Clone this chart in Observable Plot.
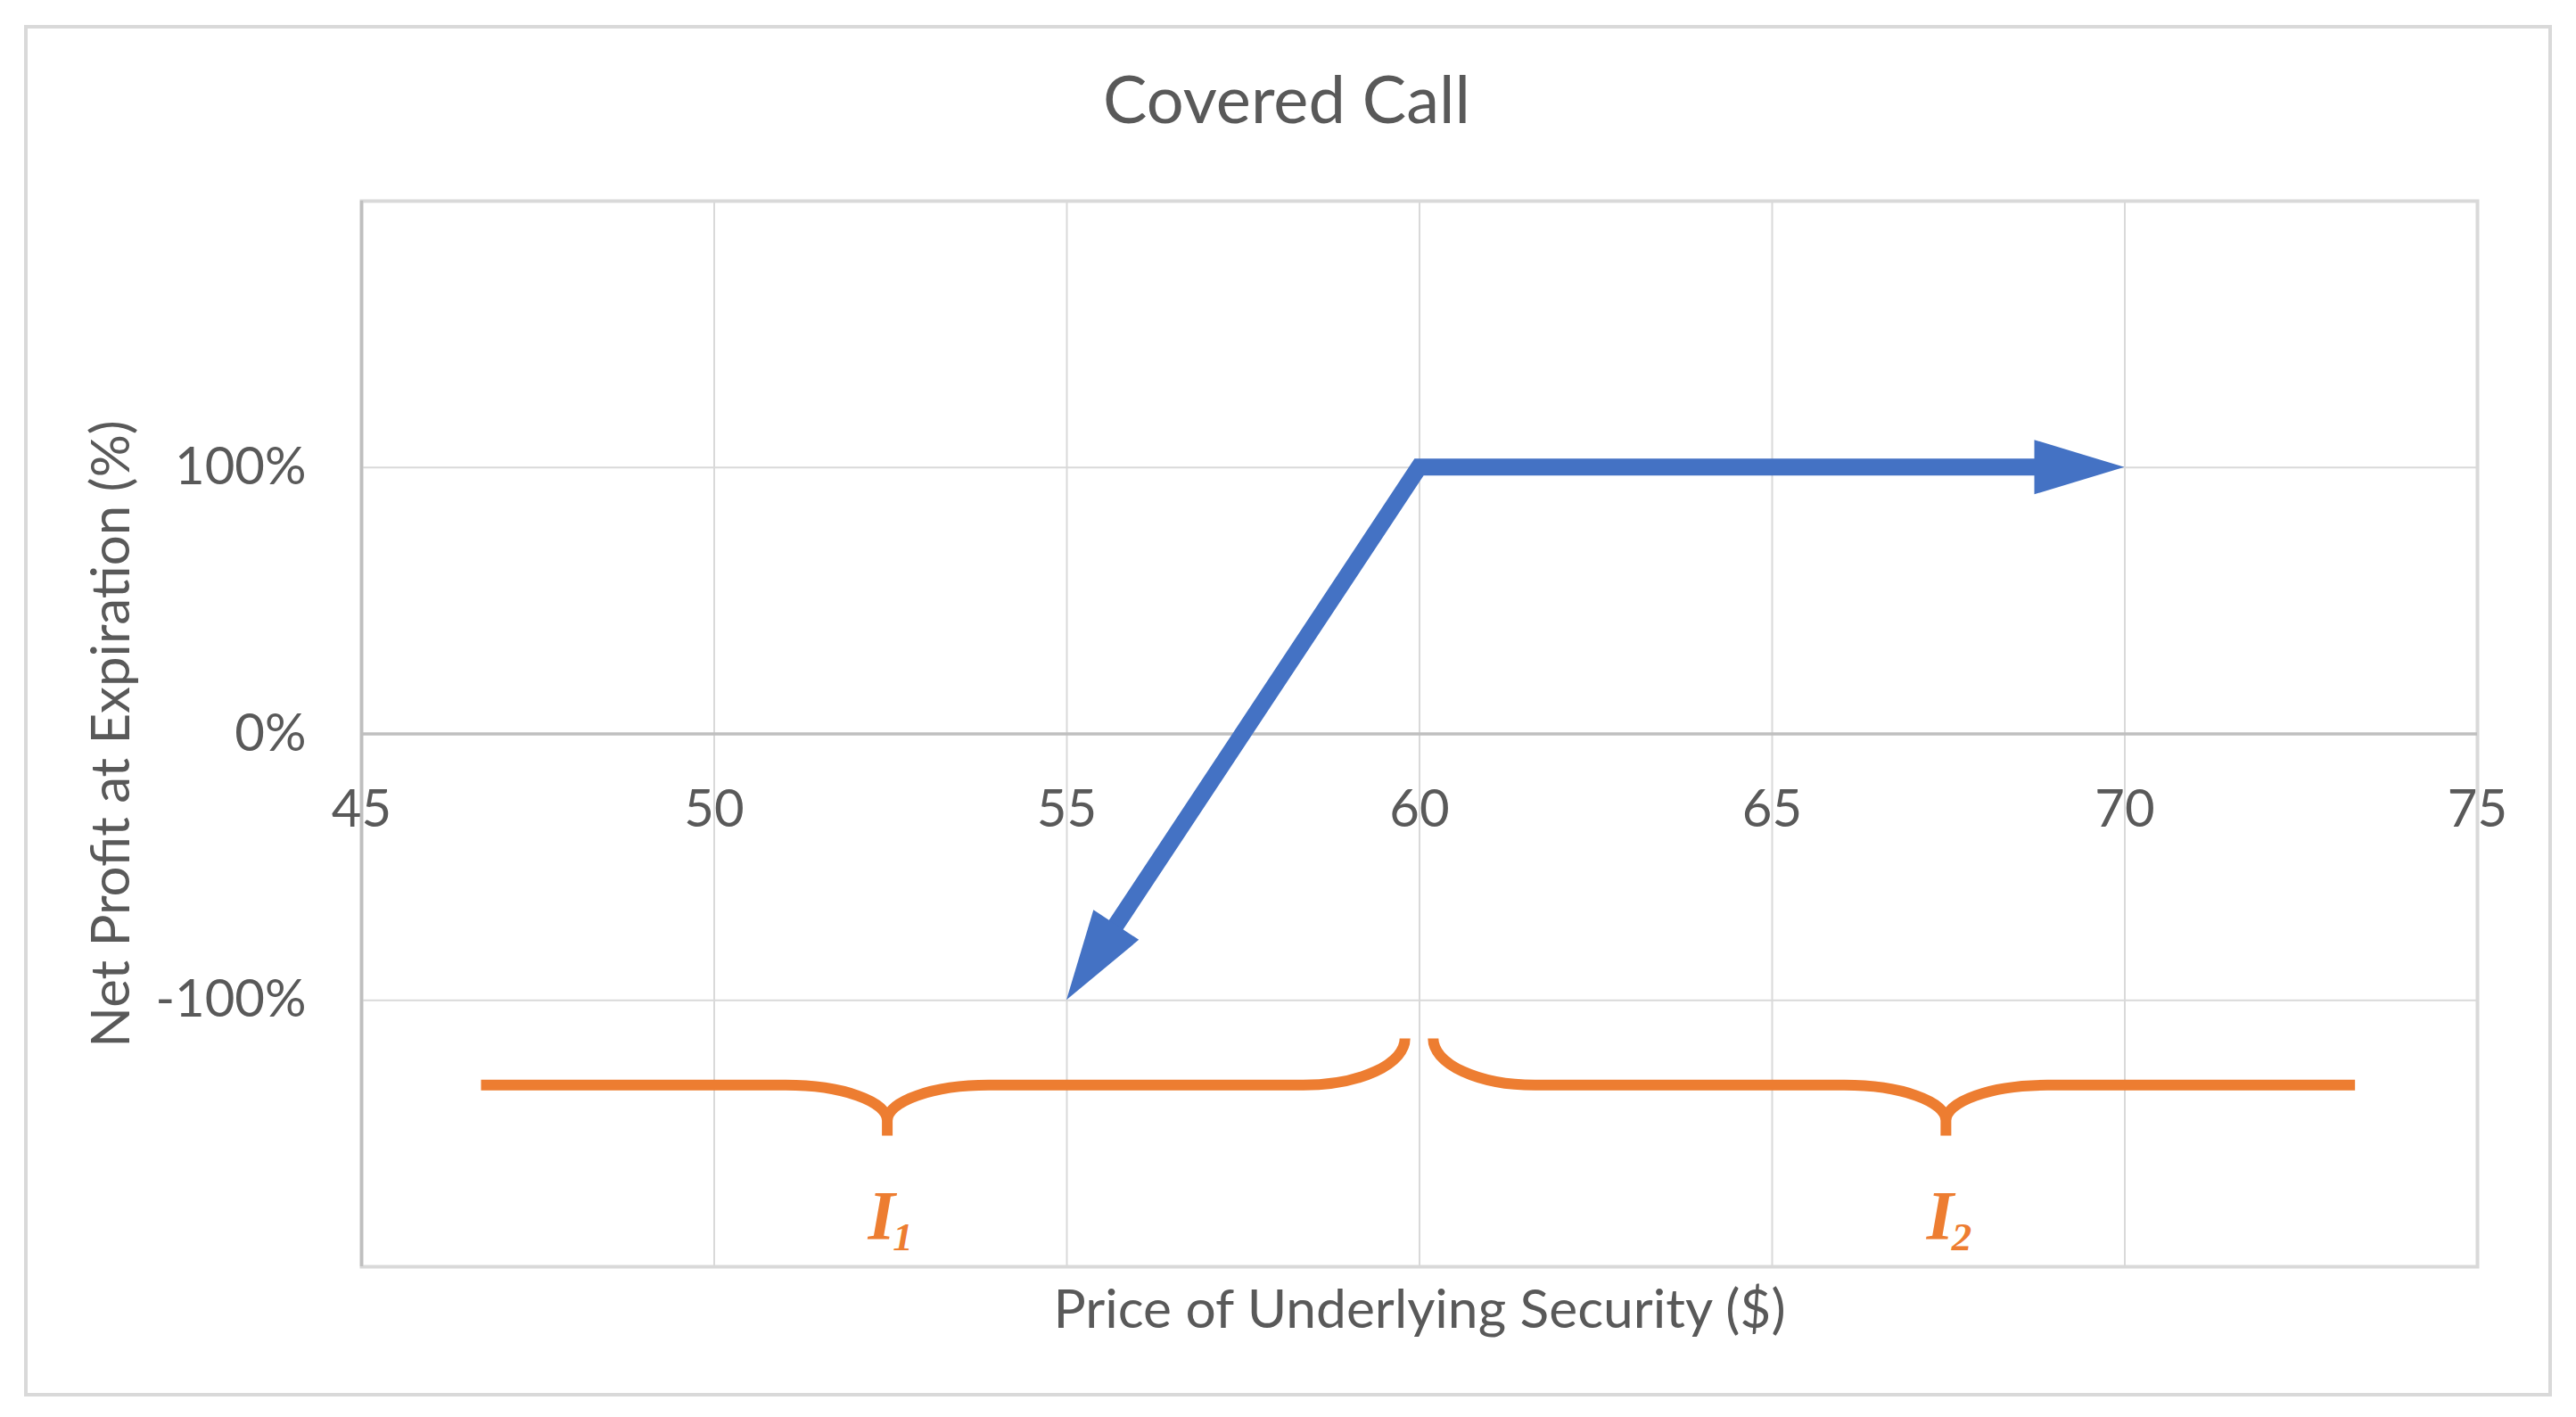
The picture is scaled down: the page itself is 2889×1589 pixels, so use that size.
<!DOCTYPE html>
<html><head><meta charset="utf-8">
<script src="https://cdn.jsdelivr.net/npm/d3@7"></script>
<script src="https://cdn.jsdelivr.net/npm/@observablehq/plot@0.6"></script>
<style>
html,body{margin:0;padding:0;background:#fff;}
#wrap{position:relative;width:2889px;height:1589px;overflow:hidden;background:#fff;}
#frame{position:absolute;left:27px;top:28px;width:2835px;height:1538px;box-sizing:border-box;border:4px solid #d9d9d9;pointer-events:none;}
#title{position:absolute;left:0;top:0;width:2889px;height:180px;}
#title span{position:absolute;left:1443px;top:110px;transform:translate(-50%,-50%);font-family:Lato,sans-serif;font-size:74px;color:#595959;white-space:nowrap;line-height:1;}
#chart{position:absolute;left:0;top:180px;}
</style></head>
<body><div id="wrap"><div id="frame"></div><div id="title"><span>Covered Call</span></div><div id="chart"></div></div>
<script>
// ---- data ----
const xTicks = [45, 50, 55, 60, 65, 70, 75];
const yTicks = [-100, 0, 100];
const yGrid = [-100, 100];
const payoffPrice = [55, 60, 70];
const payoffProfit = [-100, 100, 100];
const braceName = ["I", "I"];
const braceSub = ["1", "2"];
const braceFrom = [46.7, 73.27];   // straight end
const braceTip = [52.46, 67.47];   // pointed middle
const braceTo = [59.8, 60.2];      // curled end
const braceLevel = -132;
const braceTipLevel = -151;
const braceCurlLevel = -114.5;
const braceLabelLevel = -181;
const xLabel = "Price of Underlying Security ($)";
const yLabel = "Net Profit at Expiration (%)";

const blue = "#4472c4", orange = "#ed7d31", grid = "#d9d9d9", axisGray = "#bfbfbf", textGray = "#595959";

const payoff = payoffPrice.map((p, i) => ({price: p, profit: payoffProfit[i]}));
const braces = braceName.map((n, i) => ({name: n, sub: braceSub[i], from: braceFrom[i], tip: braceTip[i], to: braceTo[i],
  level: braceLevel, tipLevel: braceTipLevel, curlLevel: braceCurlLevel, labelLevel: braceLabelLevel}));

function arrowRender(index, scales, values, dimensions, context) {
  const X = values.x, Y = values.y;
  const pts = Array.from(index, i => [X[i], Y[i]]);
  const L = 101, W = 30.5;
  const g = d3.create("svg:g");
  const n = pts.length;
  function unit(a, b) { const dx = a[0] - b[0], dy = a[1] - b[1], l = Math.hypot(dx, dy); return [dx / l, dy / l]; }
  const shaft = pts.map(p => p.slice());
  const u0 = unit(pts[0], pts[1]), u1 = unit(pts[n - 1], pts[n - 2]);
  shaft[0] = [pts[0][0] - u0[0] * L * 0.97, pts[0][1] - u0[1] * L * 0.97];
  shaft[n - 1] = [pts[n - 1][0] - u1[0] * L * 0.97, pts[n - 1][1] - u1[1] * L * 0.97];
  g.append("path").attr("d", d3.line()(shaft)).attr("fill", "none").attr("stroke", blue)
    .attr("stroke-width", 19).attr("stroke-linejoin", "miter");
  for (const [tip, u] of [[pts[0], u0], [pts[n - 1], u1]]) {
    const b = [tip[0] - u[0] * L, tip[1] - u[1] * L];
    const p = [-u[1], u[0]];
    g.append("path").attr("d", `M${tip[0]},${tip[1]}L${b[0] + p[0] * W},${b[1] + p[1] * W}L${b[0] - p[0] * W},${b[1] - p[1] * W}Z`)
      .attr("fill", blue);
  }
  return g.node();
}

function braceRender(index, scales, values, dimensions, context) {
  const sx = scales.x, sy = scales.y;
  const g = d3.create("svg:g");
  const rx = 114, ry = 40;
  for (const i of index) {
    const d = braces[i];
    const xf = sx(d.from), xt = sx(d.tip), xc = sx(d.to);
    const yl = sy(d.level), yt = sy(d.tipLevel), yc = sy(d.curlLevel);
    const s = Math.sign(xc - xf);
    const sw = s > 0 ? 1 : 0;
    const ryc = yl - yc;
    const p = `M${xf},${yl}H${xt - s * rx}A${rx},${ry} 0 0 ${sw} ${xt},${yl + ry}V${yt}M${xt},${yt}V${yl + ry}A${rx},${ry} 0 0 ${sw} ${xt + s * rx},${yl}H${xc - s * rx}A${rx},${ryc} 0 0 ${1 - sw} ${xc},${yc}`;
    g.append("path").attr("d", p).attr("fill", "none").attr("stroke", orange).attr("stroke-width", 12);
  }
  return g.node();
}

const chart = Plot.plot({
  width: 2889, height: 1409,
  marginLeft: 405, marginRight: 111, marginTop: 45, marginBottom: 169,
  x: {domain: [45, 75], axis: null},
  y: {domain: [-200, 200], axis: null},
  style: {fontFamily: "Lato, sans-serif", color: textGray, background: "transparent", overflow: "visible"},
  marks: [
    Plot.gridX(xTicks.slice(1, -1), {stroke: grid, strokeOpacity: 1, strokeWidth: 2}),
    Plot.gridY(yGrid, {stroke: grid, strokeOpacity: 1, strokeWidth: 2}),
    Plot.frame({stroke: grid, strokeWidth: 4}),
    Plot.ruleY([0], {stroke: axisGray, strokeWidth: 3.5}),
    Plot.ruleX([45], {stroke: axisGray, strokeWidth: 3.5}),
    Plot.axisY(yTicks, {tickSize: 0, tickPadding: 62, tickFormat: d => d + "%", fontSize: 58, label: null}),
    Plot.text(xTicks, {x: d => d, y: 0, text: d => String(d), dy: 85, fontSize: 58, lineAnchor: "middle", fill: textGray}),
    Plot.text([yLabel], {frameAnchor: "left", dx: -280, rotate: -90, fontSize: 60, fill: textGray, lineAnchor: "middle", textAnchor: "middle"}),
    Plot.text([xLabel], {frameAnchor: "bottom", dy: 49, fontSize: 60.5, fill: textGray, lineAnchor: "middle", textAnchor: "middle"}),
    Plot.dot(braces, {x: "tip", y: "level", render: braceRender}),
    Plot.line(payoff, {x: "price", y: "profit", stroke: blue, render: arrowRender}),
    Plot.text(braces, {x: "tip", y: "labelLevel", text: "name", dx: -7, fontFamily: "Liberation Serif", fontStyle: "italic", fontWeight: "bold", fontSize: 78, fill: orange, lineAnchor: "middle"}),
    Plot.text(braces, {x: "tip", y: "labelLevel", text: "sub", dx: 17, dy: 24, fontFamily: "Liberation Serif", fontStyle: "italic", fontWeight: "bold", fontSize: 45, fill: orange, lineAnchor: "middle"})
  ]
});
document.getElementById("chart").appendChild(chart);
</script></body></html>
